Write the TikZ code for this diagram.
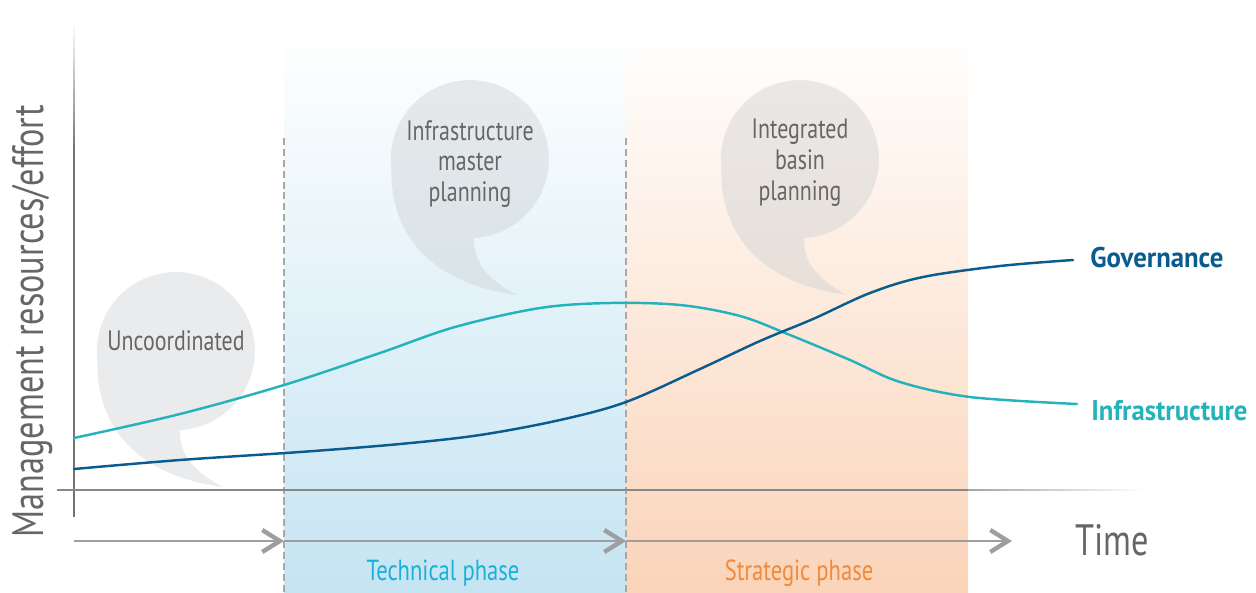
\documentclass[tikz,border=0pt]{standalone}
\usepackage{fontspec}
\setmainfont[FakeStretch=0.78, BoldFeatures={FakeStretch=0.94}]{PT Sans}
\usepackage{tikz}
\usetikzlibrary{arrows.meta,positioning}
\definecolor{mygov}{RGB}{11,92,142}
\definecolor{myinfra}{RGB}{36,179,187}
\definecolor{mytech}{RGB}{27,176,216}
\definecolor{mystrat}{RGB}{240,138,60}
\definecolor{mytext}{RGB}{102,102,102}
\definecolor{myaxis}{RGB}{115,115,115}
\definecolor{myarrow}{RGB}{158,158,158}
\definecolor{mydash}{RGB}{168,168,168}
\definecolor{myblue}{RGB}{197,228,242}
\definecolor{myorange}{RGB}{250,212,185}
\definecolor{mybubble}{RGB}{200,203,205}
\tikzstyle{bubbletext}=[font=\fontsize{16}{17.6}\selectfont, text=mytext, align=center, inner sep=0pt]
\tikzstyle{bubble}=[fill=mybubble, fill opacity=0.38]

\begin{document}
\begin{tikzpicture}[
  x=0.02cm, y=-0.02cm,
  curve/.style={line width=1.4pt, line cap=round},
  timearrow/.style={
    draw=myarrow,
    line width=1.5pt,
    -{Straight Barb[length=10pt,width=12.5pt,line width=2.5pt]}
    },
  phase/.style={font=\fontsize{16.5}{18}\selectfont, anchor=base, inner sep=0pt},
  endlabel/.style={font=\fontsize{16.2}{18}\selectfont\bfseries, anchor=base west, inner sep=0pt}
]
\useasboundingbox (0,0) rectangle (1256,592);

% phase bands
\shade[top color=white, bottom color=myblue] (284,28) rectangle (626,592);
\shade[top color=white, bottom color=myorange] (626,28) rectangle (968,592);
\draw[mydash, line width=0.8pt, dash pattern=on 4pt off 2.2pt] (284,138) -- (284,592);
\draw[mydash, line width=0.8pt, dash pattern=on 4pt off 2.2pt] (626,138) -- (626,592);

% speech bubbles
\coordinate (c1) at (176,351);
\coordinate (c2) at (470,159);
\coordinate (c3) at (800,159);
\fill[bubble, shift={(c1)}] (4,79) arc[start angle=87, end angle=-187, radius=79]
  .. controls (-80,60) and (-55,122) .. (47,136)
  .. controls (20,122) and (3,105) .. (4,79) -- cycle;
\fill[bubble, shift={(c2)}] (4,79) arc[start angle=87, end angle=-187, radius=79]
  .. controls (-80,60) and (-55,122) .. (47,136)
  .. controls (20,122) and (3,105) .. (4,79) -- cycle;
\fill[bubble, shift={(c3)}] (4,79) arc[start angle=87, end angle=-187, radius=79]
  .. controls (-80,60) and (-55,122) .. (47,136)
  .. controls (20,122) and (3,105) .. (4,79) -- cycle;
\node[bubbletext] (uncoord) at (176,341) {Uncoordinated};
\node[bubbletext] (master) at (470,164) {Infrastructure\\master\\planning};
\node[bubbletext] (basin) at (800,163) {Integrated\\basin\\planning};

% axes
\shade[top color=white, bottom color=myaxis] (73.3,22) rectangle (74.7,150);
\draw[myaxis, line width=0.8pt] (74,150) -- (74,517);
\draw[myaxis!85, line width=1.1pt] (57,490) -- (968,490);
\shade[left color=myaxis!65, right color=white] (968,489.2) rectangle (1145,490.8);

% curves
\draw[curve, myinfra] plot[smooth, tension=0.55] coordinates {
  (74,438) (180,414) (284,385) (380,353) (455,327) (540,308) (610,303)
  (680,305) (740,316) (790,335) (850,360) (900,382) (970,397) (1077,404)};
\draw[curve, mygov] plot[smooth, tension=0.55] coordinates {
  (74,469) (180,460) (300,452) (400,444) (480,435) (560,420) (626,402)
  (700,369) (760,341) (813,319) (870,293) (923,277) (1000,266) (1073,260)};

% time arrows
\coordinate (t0) at (74,541);
\coordinate (t1) at (284,541);
\coordinate (t2) at (626,541);
\coordinate (t3) at (1012,541);
\draw[timearrow] (t0) -- (t1);
\draw[timearrow] (t1) -- (t2);
\draw[timearrow] (t2) -- (t3);

% labels
\node[font=\fontsize{25}{28}\selectfont, text=mytext, anchor=base west, inner sep=0pt] (time) at (1075,555) {Time};
\node[font=\fontsize{25}{28}\selectfont, text=mytext, anchor=base, rotate=90, inner sep=0pt] (ylabel) at (43,321) {Management resources/effort};
\node[phase, text=mytech] (tech) at (443,580) {Technical phase};
\node[phase, text=mystrat] (strat) at (799,580) {Strategic phase};
\node[endlabel, text=mygov] (gov) at (1090,267) {Governance};
\node[endlabel, text=myinfra] (infra) at (1091,420) {Infrastructure};
\end{tikzpicture}
\end{document}
